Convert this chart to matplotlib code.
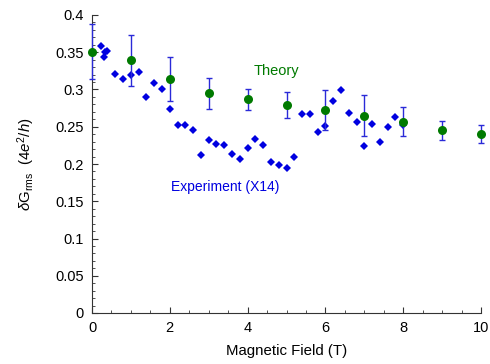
import matplotlib.pyplot as plt
from matplotlib.ticker import MultipleLocator, FuncFormatter
import numpy as np

plt.rcParams['font.family'] = ['Liberation Sans', 'DejaVu Sans']
plt.rcParams['mathtext.fontset'] = 'custom'
plt.rcParams['mathtext.rm'] = 'Liberation Sans'
plt.rcParams['mathtext.it'] = 'Liberation Sans:italic'

#------------------------
# data

# theory: green points with error bars
theory_field = [0, 1, 2, 3, 4, 5, 6, 7, 8, 9, 10]
theory_g = [0.351, 0.339, 0.314, 0.295, 0.287, 0.279, 0.272, 0.265, 0.257, 0.245, 0.240]
theory_err = [0.037, 0.034, 0.029, 0.021, 0.014, 0.017, 0.027, 0.027, 0.020, 0.013, 0.012]

# experiment (X14): blue diamonds
exp_field = [0.22, 0.30, 0.34, 0.39, 0.6, 0.8, 1.0, 1.2, 1.4, 1.6, 1.8, 2.0,
             2.2, 2.4, 2.6, 2.8, 3.0, 3.2, 3.4, 3.6, 3.8, 4.0, 4.2, 4.4,
             4.6, 4.8, 5.0, 5.2, 5.4, 5.6, 5.8, 6.0, 6.2, 6.4, 6.6, 6.8,
             7.0, 7.2, 7.4, 7.6, 7.8, 8.0]
exp_g = [0.358, 0.344, 0.350, 0.352, 0.321, 0.314, 0.319, 0.323, 0.290, 0.309, 0.301, 0.274,
         0.252, 0.252, 0.246, 0.212, 0.232, 0.227, 0.225, 0.214, 0.207, 0.221, 0.234, 0.225,
         0.203, 0.198, 0.195, 0.210, 0.267, 0.267, 0.243, 0.251, 0.285, 0.300, 0.269, 0.256,
         0.224, 0.254, 0.230, 0.250, 0.263, 0.253]

#------------------------

fig = plt.figure(figsize=(4.9, 3.64), dpi=100)
ax = fig.add_axes([92/490, 51/364, 389/490, 298/364])

blue = '#0000e0'
green = '#007a00'

ax.plot(exp_field, exp_g, 'D', color=blue, markersize=4.2, markeredgewidth=0,
        clip_on=False, zorder=2)
# error bars first, then the green circles on top
ax.errorbar(theory_field, theory_g, yerr=theory_err, fmt='none',
            ecolor='#2a2ad8', elinewidth=1, capsize=2.5, capthick=1,
            clip_on=False, zorder=3)
ax.plot(theory_field, theory_g, 'o', color=green, markersize=6.5,
        markeredgewidth=0, clip_on=False, zorder=4)

ax.text(4.73, 0.319, 'Theory', color=green, fontsize=10.5, ha='center')
ax.text(3.42, 0.164, 'Experiment (X14)', color=blue, fontsize=10, ha='center')

ax.set_xlim(0, 10)
ax.set_ylim(0, 0.4)
ax.xaxis.set_major_locator(MultipleLocator(2))
ax.xaxis.set_minor_locator(MultipleLocator(0.5))
ax.yaxis.set_major_locator(MultipleLocator(0.05))
ax.yaxis.set_minor_locator(MultipleLocator(0.01))
ax.yaxis.set_major_formatter(FuncFormatter(lambda v, p: '%g' % round(v, 2)))

for side in ['top', 'right']:
    ax.spines[side].set_visible(False)
for side in ['left', 'bottom']:
    ax.spines[side].set_color('#333333')

ax.tick_params(which='both', direction='in', labelsize=10.5, colors='#333333', labelcolor='black')
ax.tick_params(which='major', length=4, pad=6)
ax.tick_params(which='minor', length=2)

ax.set_xlabel('Magnetic Field (T)', fontsize=10.8, labelpad=6)
ax.set_ylabel(r'$\delta$G$_{\rm rms}$  $(4e^2/h)$', fontsize=10.8, labelpad=13)

fig.savefig('out.png', dpi=100)
